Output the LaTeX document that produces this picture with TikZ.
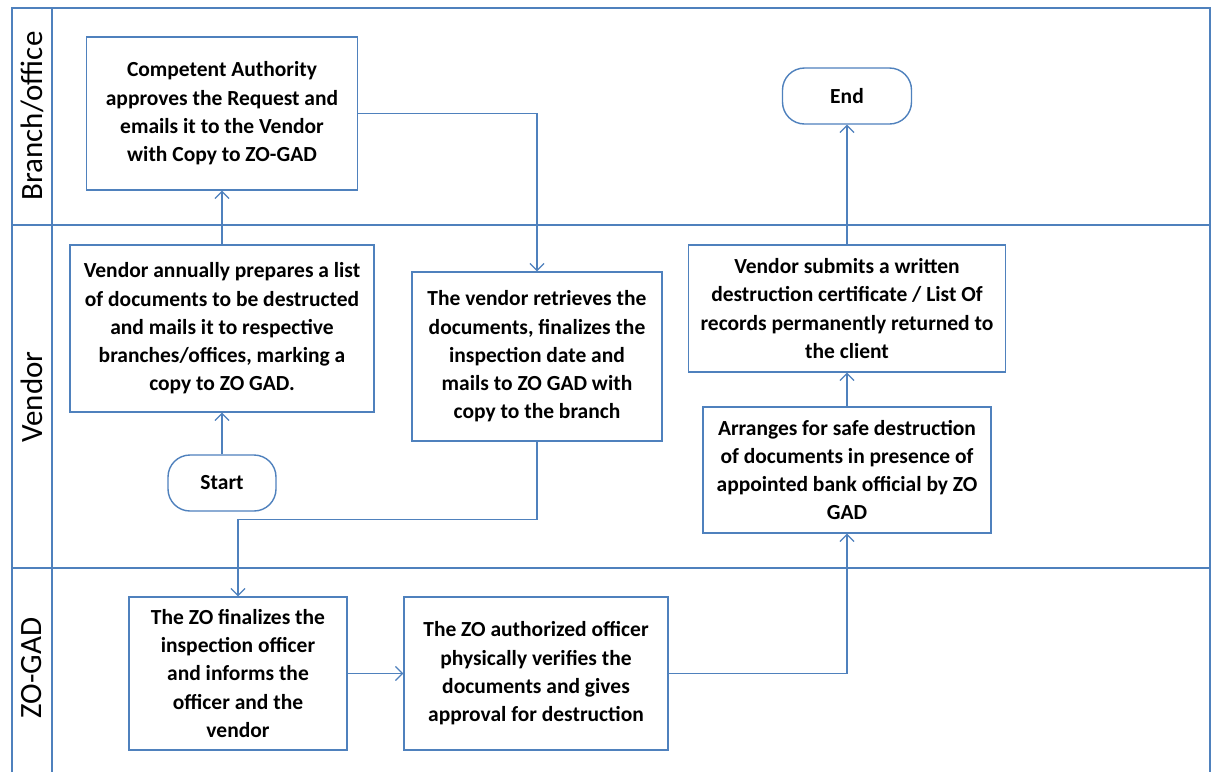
\documentclass[tikz,border=0pt]{standalone}
\usepackage{fontspec}
\setmainfont{Carlito}
\usetikzlibrary{arrows.meta}
\definecolor{lanecol}{RGB}{79,129,189}
\begin{document}
\begin{tikzpicture}[x=1pt,y=-1pt,
  laneline/.style={draw=lanecol,line width=1.4pt},
  procbox/.style={draw=lanecol,line width=1.4pt,fill=white,align=center,
    font=\fontsize{21.5}{28.3}\selectfont\bfseries,inner sep=0pt},
  termbox/.style={draw=lanecol,line width=1.4pt,fill=white,rounded corners=22pt,
    font=\fontsize{21.5}{28.3}\selectfont\bfseries,inner sep=0pt},
  lanelabel/.style={rotate=90,font=\fontsize{31}{36}\selectfont},
  flow/.style={draw=lanecol,line width=1.4pt,
    -{Straight Barb[length=7pt,width=14pt,line width=1.2pt]}}]
\useasboundingbox (0,0) rectangle (1217,772);
\fill[white] (0,0) rectangle (1217,772);

% swimlane frame
\draw[laneline] (12,772) -- (12,8) -- (1210,8) -- (1210,772);
\draw[laneline] (52,8) -- (52,772);
\draw[laneline] (12,225) -- (1210,225);
\draw[laneline] (12,568) -- (1210,568);

% lane titles
\node[lanelabel] (lbranch) at (32,116) {Branch/office};
\node[lanelabel] (lvendor) at (32,397) {Vendor};
\node[lanelabel] (lzogad) at (32,668) {ZO-GAD};

% process steps
\node[procbox,minimum width=271pt,minimum height=153pt] (ca) at (222,113.5)
  {Competent Authority\\approves the Request and\\emails it to the Vendor\\with Copy to ZO-GAD};
\node[procbox,minimum width=304pt,minimum height=167pt] (va) at (222,328.5)
  {Vendor annually prepares a list\\of documents to be destructed\\and mails it to respective\\branches/offices, marking a\\copy to ZO GAD.};
\node[termbox,minimum width=108pt,minimum height=56pt] (start) at (222,483) {Start};
\node[procbox,minimum width=250pt,minimum height=169pt] (ret) at (537,356.5)
  {The vendor retrieves the\\documents, finalizes the\\inspection date and\\mails to ZO GAD with\\copy to the branch};
\node[procbox,minimum width=218pt,minimum height=153pt] (zf) at (238,673.5)
  {The ZO finalizes the\\inspection officer\\and informs the\\officer and the\\vendor};
\node[procbox,minimum width=264pt,minimum height=153pt] (zv) at (536,673.5)
  {The ZO authorized officer\\physically verifies the\\documents and gives\\approval for destruction};
\node[procbox,minimum width=288pt,minimum height=126pt] (arr) at (847,470)
  {Arranges for safe destruction\\of documents in presence of\\appointed bank official by ZO\\GAD};
\node[procbox,minimum width=317pt,minimum height=127pt] (sub) at (847,308.5)
  {Vendor submits a written\\destruction certificate / List Of\\records permanently returned to\\the client};
\node[termbox,minimum width=129pt,minimum height=56pt] (end) at (847,96) {End};

% flow
\draw[flow] (start.north) -- (va.south);
\draw[flow] (va.north) -- (ca.south);
\draw[flow] (ca.east) -| (ret.north);
\draw[flow] (ret.south) -- ++(0,78) -| (zf.north);
\draw[flow] (zf.east) -- (zv.west);
\draw[flow] (zv.east) -| (arr.south);
\draw[flow] (arr.north) -- (sub.south);
\draw[flow] (sub.north) -- (end.south);
\end{tikzpicture}
\end{document}
